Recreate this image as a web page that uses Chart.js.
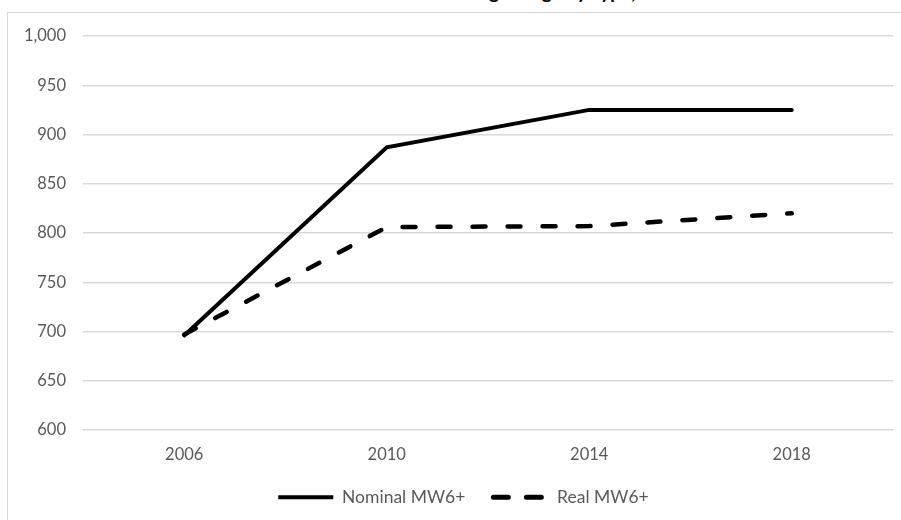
<!DOCTYPE html>
<html>
<head>
<meta charset="utf-8">
<script src="https://cdn.jsdelivr.net/npm/chart.js@4/dist/chart.umd.min.js"></script>
<style>
  html, body { margin: 0; padding: 0; background: #ffffff; overflow: hidden; }
  #wrap { position: relative; width: 901px; height: 520px; overflow: hidden; }
  #frame { position: absolute; left: 7px; top: 12px; width: 1200px; height: 1200px;
           border: 1.5px solid #d9d9d9; box-sizing: border-box; }
  #title { position: absolute; top: -18px; left: 440px; white-space: nowrap;
           font: bold 19px Lato, "Open Sans", sans-serif; line-height: 19px; color: #000; }
  #c { position: absolute; left: 0; top: 0; }
</style>
</head>
<body>
<div id="wrap">
  <div id="frame"></div>
  <div id="title">Average Wage by Type, 2006–2018</div>
  <canvas id="c" width="901" height="520"></canvas>
</div>
<script>
const categories = ["2006", "2010", "2014", "2018"];
const nominalMW6 = [696, 887, 925, 925];
const realMW6 = [697, 806, 807, 820];
const yTickMin = 600;
const yTickMax = 1000;
const yTickStep = 50;

const textColor = "#595959";
const fontFamily = "Lato, 'Open Sans', sans-serif";

// shift the legend box so it is centred like the reference
const legendShift = {
  id: "legendShift",
  afterLayout(chart) {
    if (chart.legend) { chart.legend.left += 34; }
  }
};

new Chart(document.getElementById("c"), {
  type: "line",
  plugins: [legendShift],
  data: {
    labels: categories,
    datasets: [
      {
        label: "Nominal MW6+",
        data: nominalMW6,
        borderColor: "#000000",
        backgroundColor: "#000000",
        borderWidth: 4,
        pointRadius: 0,
        tension: 0,
        borderCapStyle: "round",
        borderJoinStyle: "miter"
      },
      {
        label: "Real MW6+",
        data: realMW6,
        borderColor: "#000000",
        backgroundColor: "#000000",
        borderWidth: 4.5,
        borderDash: [13, 22],
        borderCapStyle: "round",
        pointRadius: 0,
        tension: 0
      }
    ]
  },
  options: {
    responsive: false,
    animation: false,
    layout: { padding: { top: 36, right: 8, bottom: 4, left: 0 } },
    plugins: {
      title: { display: false },
      tooltip: { enabled: false },
      legend: {
        position: "bottom",
        labels: {
          usePointStyle: true,
          pointStyle: "line",
          pointStyleWidth: 55,
          color: textColor,
          font: { family: fontFamily, size: 17.5 },
          padding: 28,
          generateLabels: chart => Chart.defaults.plugins.legend.labels.generateLabels(chart).map((item, i) => {
            const ds = chart.data.datasets[i];
            return Object.assign(item, {
              lineDash: ds.borderDash ? [15, 18] : [],
              lineCap: ds.borderDash ? "round" : "butt",
              lineWidth: ds.borderDash ? 5 : 4,
              pointStyle: "line"
            });
          })
        }
      }
    },
    scales: {
      x: {
        offset: true,
        grid: { display: false, drawTicks: false },
        border: { display: false },
        ticks: { color: textColor, font: { family: fontFamily, size: 16.5 }, padding: 15 },
        afterFit: s => { s.height = 30.5; }
      },
      y: {
        min: yTickMin,
        max: yTickMax,
        grid: { color: "#d9d9d9", lineWidth: 1.5, drawTicks: false },
        border: { display: false },
        ticks: {
          stepSize: yTickStep,
          color: textColor,
          font: { family: fontFamily, size: 16.5 },
          padding: 17,
          callback: v => v.toLocaleString("en-US")
        },
        afterFit: s => { s.width = 83; }
      }
    }
  }
});
</script>
</body>
</html>
